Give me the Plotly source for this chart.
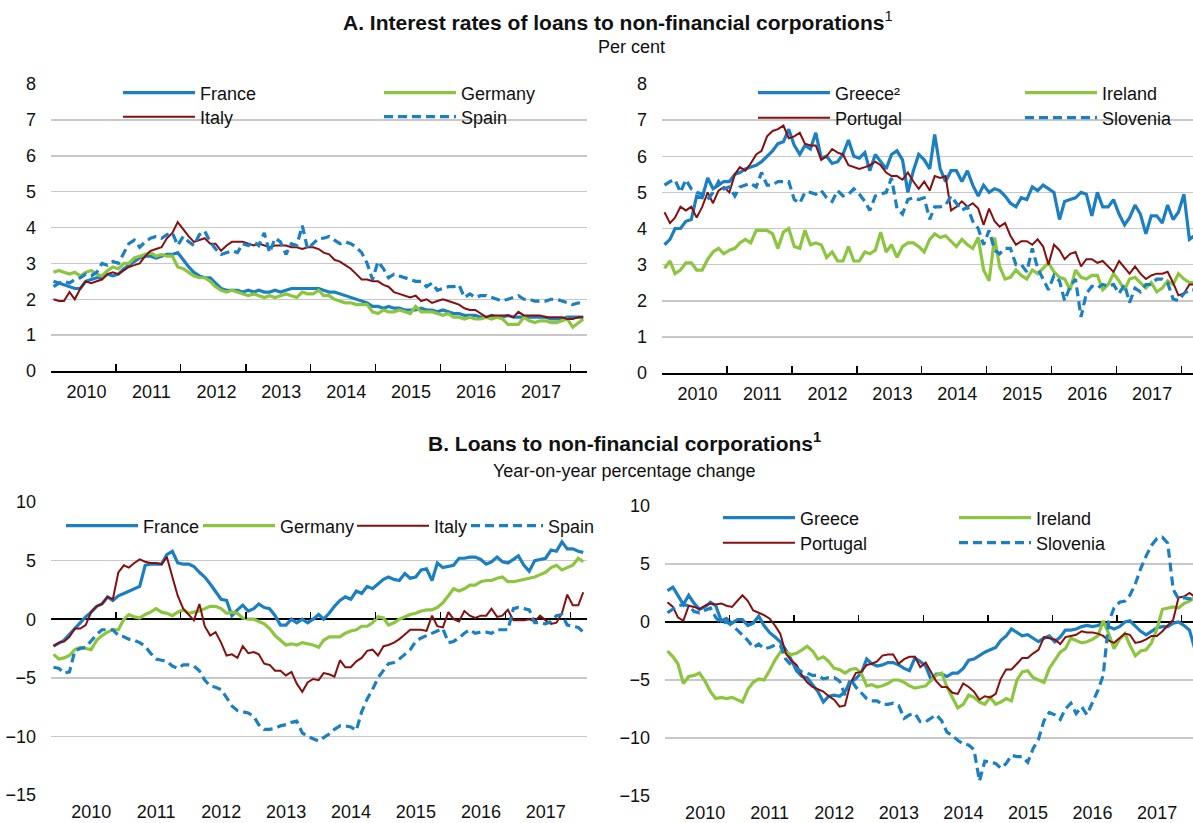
import pandas as pd
import plotly.graph_objects as go

W, H = 1193, 823
FONT = "Liberation Sans Narrow, Arial Narrow, Liberation Sans, Arial, sans-serif"

DATES = pd.date_range("2010-01-01", periods=99, freq="MS") + pd.Timedelta(days=14)
YEARS = list(range(2010, 2018))

# ---------------- Panel A: interest rates (per cent) ----------------
A_FRANCE = [
    2.50, 2.45, 2.40, 2.35, 2.30, 2.30, 2.50, 2.55, 2.60, 2.60, 2.70, 2.65,
    2.70, 2.85, 2.95, 3.05, 3.15, 3.20, 3.20, 3.15, 3.20, 3.25, 3.25, 3.30,
    3.10, 2.90, 2.75, 2.65, 2.60, 2.60, 2.45, 2.30, 2.25, 2.25, 2.25, 2.20,
    2.25, 2.20, 2.25, 2.20, 2.20, 2.25, 2.20, 2.25, 2.30, 2.30, 2.30, 2.30,
    2.30, 2.30, 2.25, 2.20, 2.20, 2.15, 2.10, 2.05, 2.00, 1.95, 1.90, 1.80,
    1.80, 1.75, 1.80, 1.75, 1.75, 1.70, 1.70, 1.70, 1.75, 1.70, 1.70, 1.65,
    1.70, 1.65, 1.60, 1.60, 1.55, 1.55, 1.55, 1.50, 1.50, 1.55, 1.50, 1.50,
    1.55, 1.50, 1.50, 1.50, 1.50, 1.50, 1.50, 1.50, 1.45, 1.45, 1.45, 1.50,
    1.50, 1.50, 1.50]
A_GERMANY = [
    2.75, 2.80, 2.75, 2.70, 2.75, 2.65, 2.75, 2.80, 2.70, 2.65, 2.80, 2.90,
    2.85, 3.00, 3.00, 3.15, 3.20, 3.25, 3.30, 3.20, 3.25, 3.20, 3.20, 2.90,
    2.85, 2.75, 2.65, 2.60, 2.60, 2.50, 2.35, 2.25, 2.20, 2.25, 2.20, 2.15,
    2.10, 2.15, 2.10, 2.05, 2.10, 2.05, 2.10, 2.15, 2.10, 2.05, 2.20, 2.15,
    2.15, 2.25, 2.10, 2.10, 2.00, 1.95, 1.90, 1.90, 1.85, 1.85, 1.85, 1.65,
    1.60, 1.70, 1.65, 1.65, 1.70, 1.65, 1.60, 1.80, 1.65, 1.65, 1.65, 1.60,
    1.55, 1.60, 1.50, 1.50, 1.45, 1.50, 1.45, 1.45, 1.50, 1.45, 1.50, 1.45,
    1.30, 1.30, 1.30, 1.50, 1.40, 1.35, 1.40, 1.40, 1.35, 1.35, 1.40, 1.45,
    1.22, 1.35, 1.45]
A_ITALY = [
    2.00, 1.95, 1.95, 2.20, 2.00, 2.30, 2.50, 2.45, 2.50, 2.55, 2.70, 2.75,
    2.70, 2.80, 2.90, 2.95, 3.00, 3.20, 3.35, 3.40, 3.45, 3.70, 3.85, 4.15,
    3.95, 3.75, 3.60, 3.65, 3.70, 3.55, 3.55, 3.35, 3.50, 3.60, 3.60, 3.60,
    3.55, 3.50, 3.55, 3.50, 3.45, 3.50, 3.50, 3.50, 3.45, 3.45, 3.40, 3.45,
    3.45, 3.40, 3.30, 3.25, 3.10, 3.05, 2.95, 2.85, 2.70, 2.55, 2.55, 2.50,
    2.50, 2.40, 2.35, 2.20, 2.15, 2.10, 2.05, 2.10, 1.95, 2.00, 1.90, 1.95,
    2.00, 1.95, 1.90, 1.85, 1.75, 1.70, 1.70, 1.60, 1.50, 1.55, 1.55, 1.55,
    1.55, 1.50, 1.65, 1.55, 1.55, 1.55, 1.55, 1.50, 1.50, 1.50, 1.50, 1.45,
    1.45, 1.50, 1.50]
A_SPAIN = [
    2.35, 2.45, 2.50, 2.45, 2.55, 2.60, 2.70, 2.65, 2.75, 3.00, 2.95, 3.05,
    3.00, 3.30, 3.55, 3.65, 3.45, 3.60, 3.70, 3.75, 3.70, 3.80, 3.85, 3.50,
    3.75, 3.60, 3.50, 3.80, 3.90, 3.60, 3.40, 3.25, 3.30, 3.35, 3.30, 3.55,
    3.50, 3.60, 3.50, 3.85, 3.30, 3.70, 3.60, 3.25, 3.55, 3.50, 4.05, 3.40,
    3.55, 3.70, 3.70, 3.75, 3.65, 3.55, 3.60, 3.55, 3.45, 3.30, 3.00, 2.55,
    3.05, 2.85, 2.60, 2.70, 2.65, 2.60, 2.55, 2.50, 2.50, 2.35, 2.45, 2.25,
    2.30, 2.35, 2.35, 2.40, 2.05, 2.15, 2.05, 2.10, 2.10, 2.05, 2.00, 1.95,
    2.00, 2.05, 2.10, 2.00, 2.00, 1.95, 1.95, 1.95, 2.00, 2.00, 1.95, 1.90,
    1.85, 1.90, 1.85]

A_GREECE = [
    3.55, 3.70, 4.00, 4.00, 4.20, 4.25, 4.90, 4.85, 5.40, 5.10, 5.20, 5.30,
    5.30, 5.50, 5.55, 5.65, 5.70, 5.75, 5.85, 6.00, 6.15, 6.35, 6.40, 6.75,
    6.30, 6.05, 6.30, 6.20, 6.65, 5.95, 6.00, 5.80, 5.85, 6.05, 6.45, 6.00,
    5.95, 6.10, 5.60, 6.05, 5.85, 5.65, 6.05, 6.15, 5.90, 5.00, 5.60, 6.05,
    5.90, 5.65, 6.60, 5.65, 5.30, 5.60, 5.60, 5.30, 5.60, 5.20, 4.90, 5.20,
    5.00, 5.10, 5.05, 4.90, 4.70, 4.60, 4.85, 4.80, 5.15, 5.05, 5.20, 5.10,
    5.00, 4.25, 4.75, 4.80, 4.85, 5.00, 4.95, 4.35, 5.00, 4.60, 4.60, 4.80,
    4.40, 4.10, 4.30, 4.65, 4.40, 3.85, 4.35, 4.35, 4.15, 4.65, 4.25, 4.45,
    4.95, 3.70, 3.80]
A_PORTUGAL = [
    4.45, 4.15, 4.30, 4.60, 4.50, 4.60, 4.30, 4.60, 5.00, 4.70, 5.05, 5.15,
    5.00, 5.50, 5.70, 5.60, 5.80, 6.05, 6.15, 6.55, 6.70, 6.75, 6.85, 6.50,
    6.55, 6.65, 6.35, 6.30, 6.30, 5.90, 6.00, 6.20, 6.10, 6.05, 5.75, 5.70,
    5.65, 5.70, 5.75, 5.85, 5.75, 5.55, 5.45, 5.45, 5.35, 5.55, 5.30, 5.10,
    5.30, 5.05, 5.45, 5.40, 5.45, 4.50, 4.60, 4.75, 4.60, 4.70, 4.55, 4.10,
    4.55, 4.20, 4.05, 4.15, 3.80, 3.55, 3.65, 3.65, 3.55, 3.70, 3.50, 3.00,
    3.55, 3.40, 3.15, 3.30, 3.35, 2.95, 3.15, 3.15, 3.05, 3.10, 2.95, 2.80,
    3.10, 2.90, 2.75, 2.95, 2.75, 2.60, 2.70, 2.75, 2.75, 2.80, 2.50, 2.15,
    2.20, 2.45, 2.45]
A_IRELAND = [
    2.90, 3.10, 2.75, 2.85, 3.05, 3.05, 2.85, 2.85, 3.15, 3.35, 3.45, 3.30,
    3.40, 3.45, 3.60, 3.70, 3.60, 3.95, 3.95, 3.95, 3.85, 3.45, 3.90, 4.00,
    3.50, 3.45, 3.95, 3.55, 3.60, 3.55, 3.20, 3.35, 3.10, 3.10, 3.50, 3.10,
    3.10, 3.35, 3.30, 3.40, 3.90, 3.35, 3.55, 3.20, 3.50, 3.60, 3.60, 3.50,
    3.35, 3.70, 3.85, 3.75, 3.80, 3.65, 3.50, 3.70, 3.55, 3.45, 3.75, 2.85,
    2.55, 3.75, 2.95, 2.60, 2.65, 2.85, 2.70, 2.60, 2.85, 2.75, 2.90, 3.05,
    2.80, 2.65, 2.60, 2.30, 2.85, 2.65, 2.60, 2.70, 2.70, 2.30, 2.45, 2.75,
    2.55, 2.30, 2.60, 2.65, 2.50, 2.35, 2.50, 2.25, 2.35, 2.55, 2.45, 2.75,
    2.60, 2.50, 2.50]
A_SLOVENIA = [
    5.20, 5.30, 5.35, 5.00, 5.35, 5.10, 5.00, 4.95, 4.80, 5.00, 5.30, 5.10,
    5.15, 4.90, 5.15, 5.20, 5.25, 5.15, 5.55, 5.20, 5.20, 5.30, 5.30, 5.30,
    4.80, 4.70, 5.00, 5.00, 4.95, 5.05, 4.85, 4.75, 5.05, 4.90, 4.95, 5.10,
    4.95, 4.75, 4.50, 4.90, 4.95, 5.00, 5.40, 4.55, 4.40, 4.80, 4.85, 4.80,
    4.85, 4.25, 4.60, 4.60, 4.65, 4.90, 4.70, 4.50, 4.60, 4.20, 4.00, 3.55,
    3.95, 3.40, 3.30, 3.45, 3.45, 3.00, 3.00, 2.80, 3.45, 2.90, 2.60, 2.30,
    2.70, 2.55, 2.00, 2.40, 2.60, 1.55, 2.20, 2.40, 2.35, 2.45, 2.40, 2.45,
    2.20, 2.45, 1.95, 2.35, 2.25, 2.45, 2.45, 2.60, 2.60, 2.50, 2.05, 2.00,
    2.20, 2.30, 2.30]

# ---------------- Panel B: loans, y-o-y % change ----------------
B_FRANCE = [
    -2.3, -2.0, -1.8, -1.3, -0.8, -0.3, 0.2, 0.6, 1.1, 1.3, 1.9, 1.6,
    2.0, 2.2, 2.4, 2.6, 2.8, 4.6, 4.7, 4.7, 4.7, 5.5, 5.8, 4.8,
    4.7, 4.7, 4.5, 4.0, 3.6, 3.0, 2.3, 1.7, 1.6, 0.3, 0.8, 1.2,
    0.7, 0.9, 1.3, 1.0, 0.9, 0.3, -0.5, -0.5, 0.0, -0.3, 0.0, -0.3,
    0.0, 0.4, 0.0, 0.5, 1.1, 1.6, 1.9, 1.7, 2.4, 2.2, 2.8, 2.6,
    3.0, 3.4, 3.6, 3.4, 3.3, 3.9, 3.5, 3.6, 4.2, 4.3, 3.3, 4.8,
    4.4, 4.5, 4.6, 5.2, 5.2, 5.3, 5.3, 5.1, 4.7, 4.9, 5.3, 4.9,
    4.8, 5.1, 5.4, 4.6, 4.1, 5.0, 5.1, 5.2, 5.9, 5.8, 6.6, 6.0,
    6.0, 5.8, 5.7]
B_GERMANY = [
    -3.0, -3.4, -3.3, -3.1, -2.6, -2.4, -2.5, -2.6, -1.8, -1.4, -1.1, -0.9,
    -0.9, 0.0, 0.4, 0.2, 0.1, 0.4, 0.6, 0.9, 0.6, 0.5, 0.3, 0.6,
    0.8, 0.5, 0.6, 0.7, 0.9, 1.1, 1.1, 0.9, 0.5, 0.6, 0.5, 0.1,
    0.0, 0.0, -0.2, -0.4, -0.8, -1.4, -1.8, -2.2, -2.1, -2.2, -2.0, -2.1,
    -2.2, -2.4, -1.8, -1.5, -1.5, -1.5, -1.2, -1.0, -0.9, -0.6, -0.6, -0.3,
    0.2, 0.1, -0.5, -0.3, 0.0, 0.2, 0.4, 0.5, 0.7, 0.8, 0.8, 1.0,
    1.4, 2.0, 2.6, 2.4, 2.6, 2.9, 2.9, 3.2, 3.3, 3.3, 3.5, 3.6,
    3.2, 3.2, 3.3, 3.4, 3.5, 3.6, 3.8, 4.0, 4.4, 4.6, 4.2, 4.4,
    4.6, 5.2, 4.9]
B_ITALY = [
    -2.3, -2.0, -1.9, -1.5, -0.8, -0.8, -0.5, 0.6, 1.1, 1.3, 1.9, 1.7,
    4.0, 4.6, 4.4, 4.8, 5.1, 4.9, 4.8, 4.8, 4.7, 5.3, 3.6, 2.0,
    0.9, 0.4, -0.1, 1.3, -0.6, -1.4, -1.1, -2.0, -3.1, -3.0, -3.3, -2.3,
    -2.9, -2.8, -3.0, -3.8, -3.9, -4.4, -4.4, -4.8, -4.5, -5.5, -6.2, -5.4,
    -5.1, -5.2, -4.6, -4.7, -4.9, -3.5, -4.1, -4.1, -3.6, -3.3, -2.7, -2.6,
    -3.1, -2.3, -2.2, -2.0, -1.7, -1.3, -0.9, -0.9, -0.9, -1.0, 0.3, -0.6,
    -0.7, 0.6, 0.0, -0.2, 0.7, 0.3, 0.1, 0.3, 0.3, 0.9, 0.2, 0.3,
    0.8, -0.1, -0.1, -0.1, 0.0, -0.2, 0.3, -0.1, -0.4, -0.3, 0.5, 2.1,
    1.2, 1.2, 2.3]
B_SPAIN = [
    -4.1, -4.2, -4.6, -4.5, -2.7, -2.5, -2.4, -1.8, -1.3, -0.9, -0.9, -0.9,
    -1.4, -1.5, -1.7, -1.8, -2.0, -2.3, -2.9, -3.4, -3.5, -3.6, -4.0, -4.2,
    -3.9, -3.9, -4.0, -4.4, -5.2, -5.7, -5.8, -6.0, -6.7, -7.4, -7.8, -7.9,
    -8.0, -8.3, -9.0, -9.4, -9.4, -9.3, -9.1, -9.0, -8.8, -8.7, -9.7, -10.0,
    -10.2, -10.4, -10.1, -9.8, -9.4, -9.1, -9.1, -9.2, -9.5, -7.9, -6.8, -6.0,
    -5.0, -4.4, -3.8, -3.7, -3.4, -3.0, -2.6, -1.9, -1.6, -1.4, -1.2, -1.0,
    -0.8, -2.0, -1.9, -1.6, -1.2, -0.9, -1.2, -1.1, -1.1, -1.2, -0.9, -0.9,
    -0.9, 0.9, 1.0, 0.9, 0.8, -0.3, -0.3, -0.4, -0.2, 0.3, 0.4, -0.5,
    -0.6, -0.7, -1.1]

B_GREECE = [
    2.7, 3.0, 2.3, 1.5, 2.3, 1.6, 1.1, 1.3, 1.7, 1.4, 0.1, 0.3,
    -0.1, 0.2, 0.2, -0.3, -0.1, 0.5, -0.3, -0.9, -1.3, -1.7, -2.4, -3.2,
    -4.2, -4.7, -4.8, -5.4, -6.0, -6.9, -6.4, -6.3, -6.4, -6.0, -5.2, -4.9,
    -4.4, -3.2, -3.6, -3.8, -3.7, -3.5, -3.5, -3.7, -4.0, -4.2, -3.1, -3.4,
    -3.8, -5.0, -4.5, -4.5, -4.7, -4.4, -4.4, -4.0, -3.3, -3.2, -2.9, -2.6,
    -2.4, -2.2, -1.6, -1.2, -0.6, -0.9, -1.2, -1.1, -1.4, -1.7, -1.4, -1.2,
    -1.7, -1.3, -0.7, -0.7, -0.6, -0.4, -0.3, -0.4, -0.3, -0.1, -0.4, -0.6,
    -0.4, 0.0, 0.1, -0.4, -0.8, -1.1, -0.8, -0.5, -0.4, -0.4, -0.1, 0.0,
    -0.3, -0.7, -2.2]
B_PORTUGAL = [
    1.7, 1.3, 0.4, 0.1, 1.4, 1.3, 1.1, 1.4, 1.6, 1.5, 1.6, 1.4,
    1.3, 1.8, 2.3, 1.8, 1.0, 0.8, 0.6, 0.3, -0.3, -1.0, -2.7, -3.3,
    -3.7, -4.6, -5.2, -5.6, -5.8, -6.0, -6.4, -6.7, -7.3, -7.2, -5.3, -4.4,
    -4.3, -3.7, -3.6, -3.4, -2.9, -2.8, -2.8, -3.6, -3.2, -3.0, -3.0, -3.9,
    -3.5, -4.4, -5.1, -5.6, -5.6, -6.1, -6.2, -5.3, -5.6, -6.0, -6.7, -6.4,
    -6.5, -6.2, -4.9, -4.1, -4.1, -3.6, -3.1, -3.1, -2.7, -2.4, -1.3, -1.4,
    -1.5, -1.9, -1.3, -1.2, -1.1, -0.8, -0.9, -0.9, -1.0, -1.2, -1.6, -1.8,
    -1.4, -1.0, -1.1, -1.8, -1.7, -1.5, -1.2, -1.2, -0.8, -0.3, 0.2, 2.1,
    2.2, 2.5, 2.2]
B_IRELAND = [
    -2.5, -3.0, -3.6, -5.3, -4.7, -4.6, -4.4, -5.1, -6.0, -6.6, -6.5, -6.6,
    -6.5, -6.7, -6.9, -5.8, -5.2, -4.9, -5.0, -4.2, -3.3, -2.6, -2.6, -2.8,
    -2.7, -2.4, -2.1, -2.5, -3.2, -3.0, -3.4, -4.0, -4.1, -4.4, -4.1, -4.0,
    -4.4, -5.5, -5.4, -5.6, -5.5, -5.3, -5.0, -5.0, -5.2, -5.5, -5.7, -5.6,
    -5.5, -5.0, -4.6, -4.4, -5.6, -6.5, -7.4, -7.1, -6.3, -6.5, -6.9, -7.1,
    -6.5, -7.1, -6.9, -6.6, -6.8, -5.0, -4.3, -4.2, -4.8, -5.0, -5.2, -4.0,
    -3.3, -2.6, -2.3, -1.4, -1.6, -1.8, -1.7, -1.5, -1.2, 0.1, -1.0, -2.3,
    -1.5, -1.0, -2.0, -2.9, -2.5, -2.4, -1.8, -0.6, 1.1, 1.2, 1.3, 1.2,
    1.6, 1.8, 2.1]
B_SLOVENIA = [
    0.8, 1.1, 1.4, 1.5, 1.4, 0.9, 0.8, 1.0, 1.2, 0.4, -0.1, 0.0,
    -0.3, -0.7, -1.1, -1.6, -2.2, -1.9, -2.3, -2.2, -2.0, -2.0, -3.2, -3.7,
    -4.0, -4.3, -4.4, -4.6, -4.6, -4.9, -4.8, -4.8, -5.1, -6.3, -4.9, -5.6,
    -6.1, -6.6, -6.8, -6.8, -7.1, -7.1, -7.0, -7.2, -8.3, -8.0, -7.9, -8.6,
    -8.6, -8.3, -8.0, -8.5, -9.5, -9.8, -10.2, -10.5, -10.6, -11.0, -13.7, -12.0,
    -12.1, -12.2, -12.6, -12.2, -11.5, -11.6, -11.6, -12.1, -10.9, -10.1, -8.5, -7.8,
    -8.0, -8.4, -7.5, -7.0, -7.9, -7.3, -8.0, -6.9, -5.9, -4.6, 0.0, 1.2,
    1.7, 1.8, 2.3, 3.3, 4.6, 5.7, 6.6, 7.2, 7.3, 6.8, 2.8, 2.0,
    2.1, 2.0, 2.0]

for _name, _s in list(globals().items()):
    if (_name.startswith("A_") or _name.startswith("B_")) and isinstance(_s, list):
        if len(_s) != 99:
            raise ValueError(f"{_name} has {len(_s)} values")

BLUE = "#1a7fc3"
GREEN = "#8cc63e"
RED = "#870f0f"
GRID = "#c8c8c8"

STYLE = {
    "France": dict(color=BLUE, width=3.2),
    "Greece²": dict(color=BLUE, width=3.2),
    "Greece": dict(color=BLUE, width=3.2),
    "Germany": dict(color=GREEN, width=3.2),
    "Ireland": dict(color=GREEN, width=3.2),
    "Italy": dict(color=RED, width=2),
    "Portugal": dict(color=RED, width=2),
    "Spain": dict(color=BLUE, width=3.2, dash="9px,5px"),
    "Slovenia": dict(color=BLUE, width=3.2, dash="9px,5px"),
}

# legend text start positions (px) for each series
PANELS = [
    ("x", "y", "x5", [("France", A_FRANCE), ("Germany", A_GERMANY), ("Italy", A_ITALY), ("Spain", A_SPAIN)],
     [(200, 93), (461, 93), (200, 117), (461, 117)]),
    ("x2", "y2", "x6", [("Greece²", A_GREECE), ("Ireland", A_IRELAND), ("Portugal", A_PORTUGAL), ("Slovenia", A_SLOVENIA)],
     [(835, 93), (1102, 93), (835, 118), (1102, 118)]),
    ("x3", "y3", "x7", [("France", B_FRANCE), ("Germany", B_GERMANY), ("Italy", B_ITALY), ("Spain", B_SPAIN)],
     [(143, 526), (280, 526), (434, 526), (548, 526)]),
    ("x4", "y4", "x8", [("Greece", B_GREECE), ("Ireland", B_IRELAND), ("Portugal", B_PORTUGAL), ("Slovenia", B_SLOVENIA)],
     [(800, 518), (1036, 518), (800, 543), (1036, 543)]),
]

ITEMW = 72
fig = go.Figure()
legends = {}
lid = 0
for xa, ya, ova, series, lpos in PANELS:
    for (name, vals), (tx, ty) in zip(series, lpos):
        lid += 1
        lname = "legend" if lid == 1 else f"legend{lid}"
        fig.add_trace(go.Scatter(
            x=DATES, y=vals, name=name, mode="lines", line=STYLE[name],
            xaxis=xa, yaxis=ya, legend=lname, hoverinfo="skip"))
        legends[lname] = dict(
            x=(tx - ITEMW - 10) / W, y=1 - ty / H, xanchor="left", yanchor="middle",
            bgcolor="rgba(0,0,0,0)", borderwidth=0, itemwidth=ITEMW,
            font=dict(family=FONT, size=18, color="#111"))
    fig.add_trace(go.Scatter(x=[DATES[0]], y=[0], mode="lines", xaxis=ova, yaxis=ya,
                             showlegend=False, hoverinfo="skip", line=dict(width=0)))

fig.update_layout(**legends)

X_LEFT = [51 / W, 587 / W]
X_RIGHT_A = [662 / W, 1.0]
X_RIGHT_B = [665 / W, 1.0]
Y_A = [1 - 371 / H, 1 - 84 / H]
Y_A2 = [1 - 373 / H, 1 - 84 / H]
Y_B = [1 - 795 / H, 1 - 502 / H]
Y_B2 = [1 - 796 / H, 1 - 506 / H]

R_LEFT = ["2010-01-01", "2018-04-05"]
R_RIGHT_A = ["2010-01-01", "2018-03-07"]
R_RIGHT_B = ["2010-01-01", "2018-03-07"]

year_starts = [f"{y}-01-01" for y in YEARS] + ["2018-01-01"]
labA = [f"{y}-07-20" for y in YEARS]
labB = [f"{y}-08-16" for y in YEARS]
txt = [str(y) for y in YEARS]

tickfont = dict(family=FONT, size=18, color="#111")


def main_x(domain, rng, anchor, tickvals, showline):
    return dict(domain=domain, range=rng, anchor=anchor, type="date",
                tickmode="array", tickvals=tickvals, ticktext=txt, ticks="",
                showgrid=False, zeroline=False, showline=showline,
                linecolor="#000", linewidth=1.5, tickfont=tickfont,
                ticklabelstandoff=4, automargin=False, fixedrange=True)


def over_x(rng, overlaying, anchor, position=None):
    d = dict(range=rng, overlaying=overlaying, type="date", tickmode="array",
             tickvals=year_starts, ticks="inside", ticklen=7, tickwidth=1.5,
             tickcolor="#000", showticklabels=False, showgrid=False,
             zeroline=False, showline=False, side="bottom", automargin=False,
             fixedrange=True)
    if position is None:
        d["anchor"] = anchor
    else:
        d["anchor"] = "free"
        d["position"] = position
    return d


def yax(domain, rng, dtick, zeroline, anchor):
    return dict(domain=domain, range=rng, dtick=dtick, tick0=0, showgrid=True,
                gridcolor=GRID, gridwidth=1.5, zeroline=zeroline,
                zerolinecolor="#000", zerolinewidth=1.5, showline=False,
                ticks="", tickfont=tickfont, ticklabelstandoff=14,
                automargin=False, fixedrange=True, anchor=anchor)


def zero_pos(domain, rng):
    return domain[0] + (0 - rng[0]) / (rng[1] - rng[0]) * (domain[1] - domain[0])


YR_A = [0, 8]
YR_B = [-15, 10]

fig.update_layout(
    template="none",
    width=W, height=H, autosize=False,
    margin=dict(l=0, r=0, t=0, b=0, autoexpand=False),
    paper_bgcolor="white", plot_bgcolor="white",
    font=dict(family=FONT, color="#111"),
    xaxis=main_x(X_LEFT, R_LEFT, "y", labA, True),
    xaxis2=main_x(X_RIGHT_A, R_RIGHT_A, "y2", labA, True),
    xaxis3=main_x(X_LEFT, R_LEFT, "y3", labB, False),
    xaxis4=main_x(X_RIGHT_B, R_RIGHT_B, "y4", labB, False),
    xaxis5=over_x(R_LEFT, "x", "y"),
    xaxis6=over_x(R_RIGHT_A, "x2", "y2"),
    xaxis7=over_x(R_LEFT, "x3", None, zero_pos(Y_B, YR_B)),
    xaxis8=over_x(R_RIGHT_B, "x4", None, zero_pos(Y_B2, YR_B)),
    yaxis=yax(Y_A, YR_A, 1, False, "x"),
    yaxis2=yax(Y_A2, YR_A, 1, False, "x2"),
    yaxis3=yax(Y_B, YR_B, 5, True, "x3"),
    yaxis4=yax(Y_B2, YR_B, 5, True, "x4"),
    showlegend=True,
)

ann = [
    dict(text="<b>A. Interest rates of loans to non-financial corporations</b><sup>1</sup>",
         x=618 / W, y=1 - 21 / H, size=21),
    dict(text="Per cent", x=631 / W, y=1 - 47 / H, size=18),
    dict(text="<b>B. Loans to non-financial corporations<sup>1</sup></b>",
         x=624 / W, y=1 - 442 / H, size=21),
    dict(text="Year-on-year percentage change", x=624 / W, y=1 - 471 / H, size=18),
]
for a in ann:
    fig.add_annotation(text=a["text"], x=a["x"], y=a["y"], xref="paper", yref="paper",
                       xanchor="center", yanchor="middle", showarrow=False,
                       font=dict(family=FONT, size=a["size"], color="#111"))

fig.write_html("out.html",
               config={"displayModeBar": False, "staticPlot": True},
               post_script="document.body.style.margin='0';document.body.style.overflow='hidden';")
